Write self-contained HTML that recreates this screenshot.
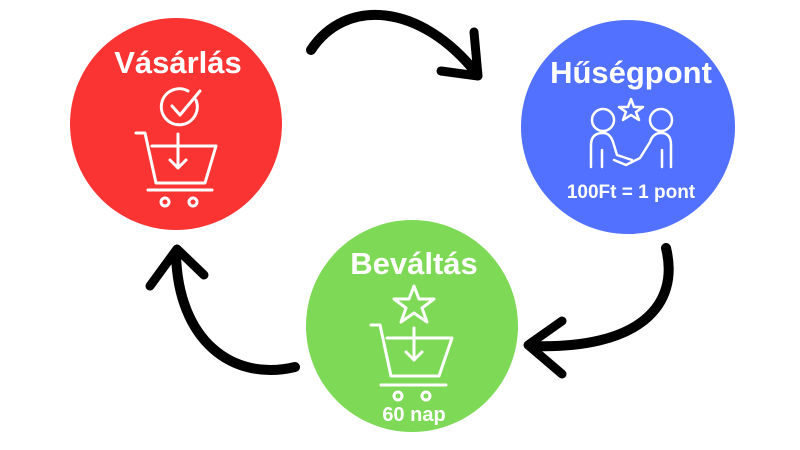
<!DOCTYPE html>
<html><head><meta charset="utf-8"><style>
html,body{margin:0;padding:0;background:#fff;}
svg{display:block;}
text{font-family:"Liberation Sans","DejaVu Sans",sans-serif;font-weight:bold;fill:#fff;}
</style></head><body>
<svg width="800" height="450" viewBox="0 0 800 450" xmlns="http://www.w3.org/2000/svg">
<circle cx="176" cy="124" r="106" fill="#FA3333"/>
<circle cx="628" cy="127" r="107" fill="#5271FF"/>
<circle cx="412" cy="326" r="106" fill="#7ED957"/>

<g fill="none" stroke="#000" stroke-linecap="round" stroke-linejoin="round">
<path d="M311,50 C345,-2 420,2 477,74" stroke-width="10"/>
<path d="M474,32 L478,76 L441,71" stroke-width="9"/>
<path d="M666,248 C680,305 640,350 530,346" stroke-width="10"/>
<path d="M562,321 L528,345 L562,374" stroke-width="9"/>
<path d="M295,367 C232,382 178,340 176,254" stroke-width="10"/>
<path d="M150,286 L177,249 L204,275" stroke-width="9"/>
</g>

<text x="178" y="73" font-size="31" text-anchor="middle">Vásárlás</text>
<g fill="none" stroke="#fff" stroke-width="3" stroke-linecap="round" stroke-linejoin="round">
<path d="M196,100 A18,18 0 1 1 188,91"/>
<path d="M172,106 L180,115 L200,91"/>
<path d="M136,133 L145,133 L156,183 L205,183 L216,146 L152,146"/>
<path d="M178,134 L178,168 M170,160 L178,168 L186,160"/>
<path d="M148,190 L212,190"/>
<circle cx="165" cy="202" r="4"/><circle cx="193" cy="202" r="4"/>
</g>

<text x="631" y="83" font-size="31" text-anchor="middle">Hűségpont</text>
<g fill="none" stroke="#fff" stroke-width="2.5" stroke-linecap="round" stroke-linejoin="round">
<path d="M631,99 L634,107 L643,107 L636,112 L639,120 L631,115 L623,120 L626,112 L619,107 L628,107 Z"/>
<circle cx="603" cy="120" r="11"/><circle cx="661" cy="120" r="11"/>
<path d="M591,167 L591,145 Q591,133 603,133 Q610,133 613,142 L617,155 L632,160"/>
<path d="M671,167 L671,145 Q671,133 661,133 Q653,133 650,142 L640,158 L626,165 L614,160"/>
<path d="M602,150 L602,167 M662,150 L662,167"/>
</g>
<text x="631" y="198" font-size="19" text-anchor="middle">100Ft = 1 pont</text>

<text x="414" y="274" font-size="31" text-anchor="middle">Beváltás</text>
<g fill="none" stroke="#fff" stroke-width="3" stroke-linecap="round" stroke-linejoin="round">
<path d="M414,286 L419,299 L434,299 L422,308 L427,322 L414,313 L401,322 L406,308 L394,299 L409,299 Z"/>
<path d="M371,325 L380,325 L391,376 L439,376 L452,338 L387,338"/>
<path d="M414,328 L414,360 M406,352 L414,360 L422,352"/>
<path d="M381,385 L446,385"/>
<circle cx="398" cy="396" r="4"/><circle cx="426" cy="396" r="4"/>
</g>
<text x="414" y="421" font-size="20" text-anchor="middle">60 nap</text>
</svg>
</body></html>
